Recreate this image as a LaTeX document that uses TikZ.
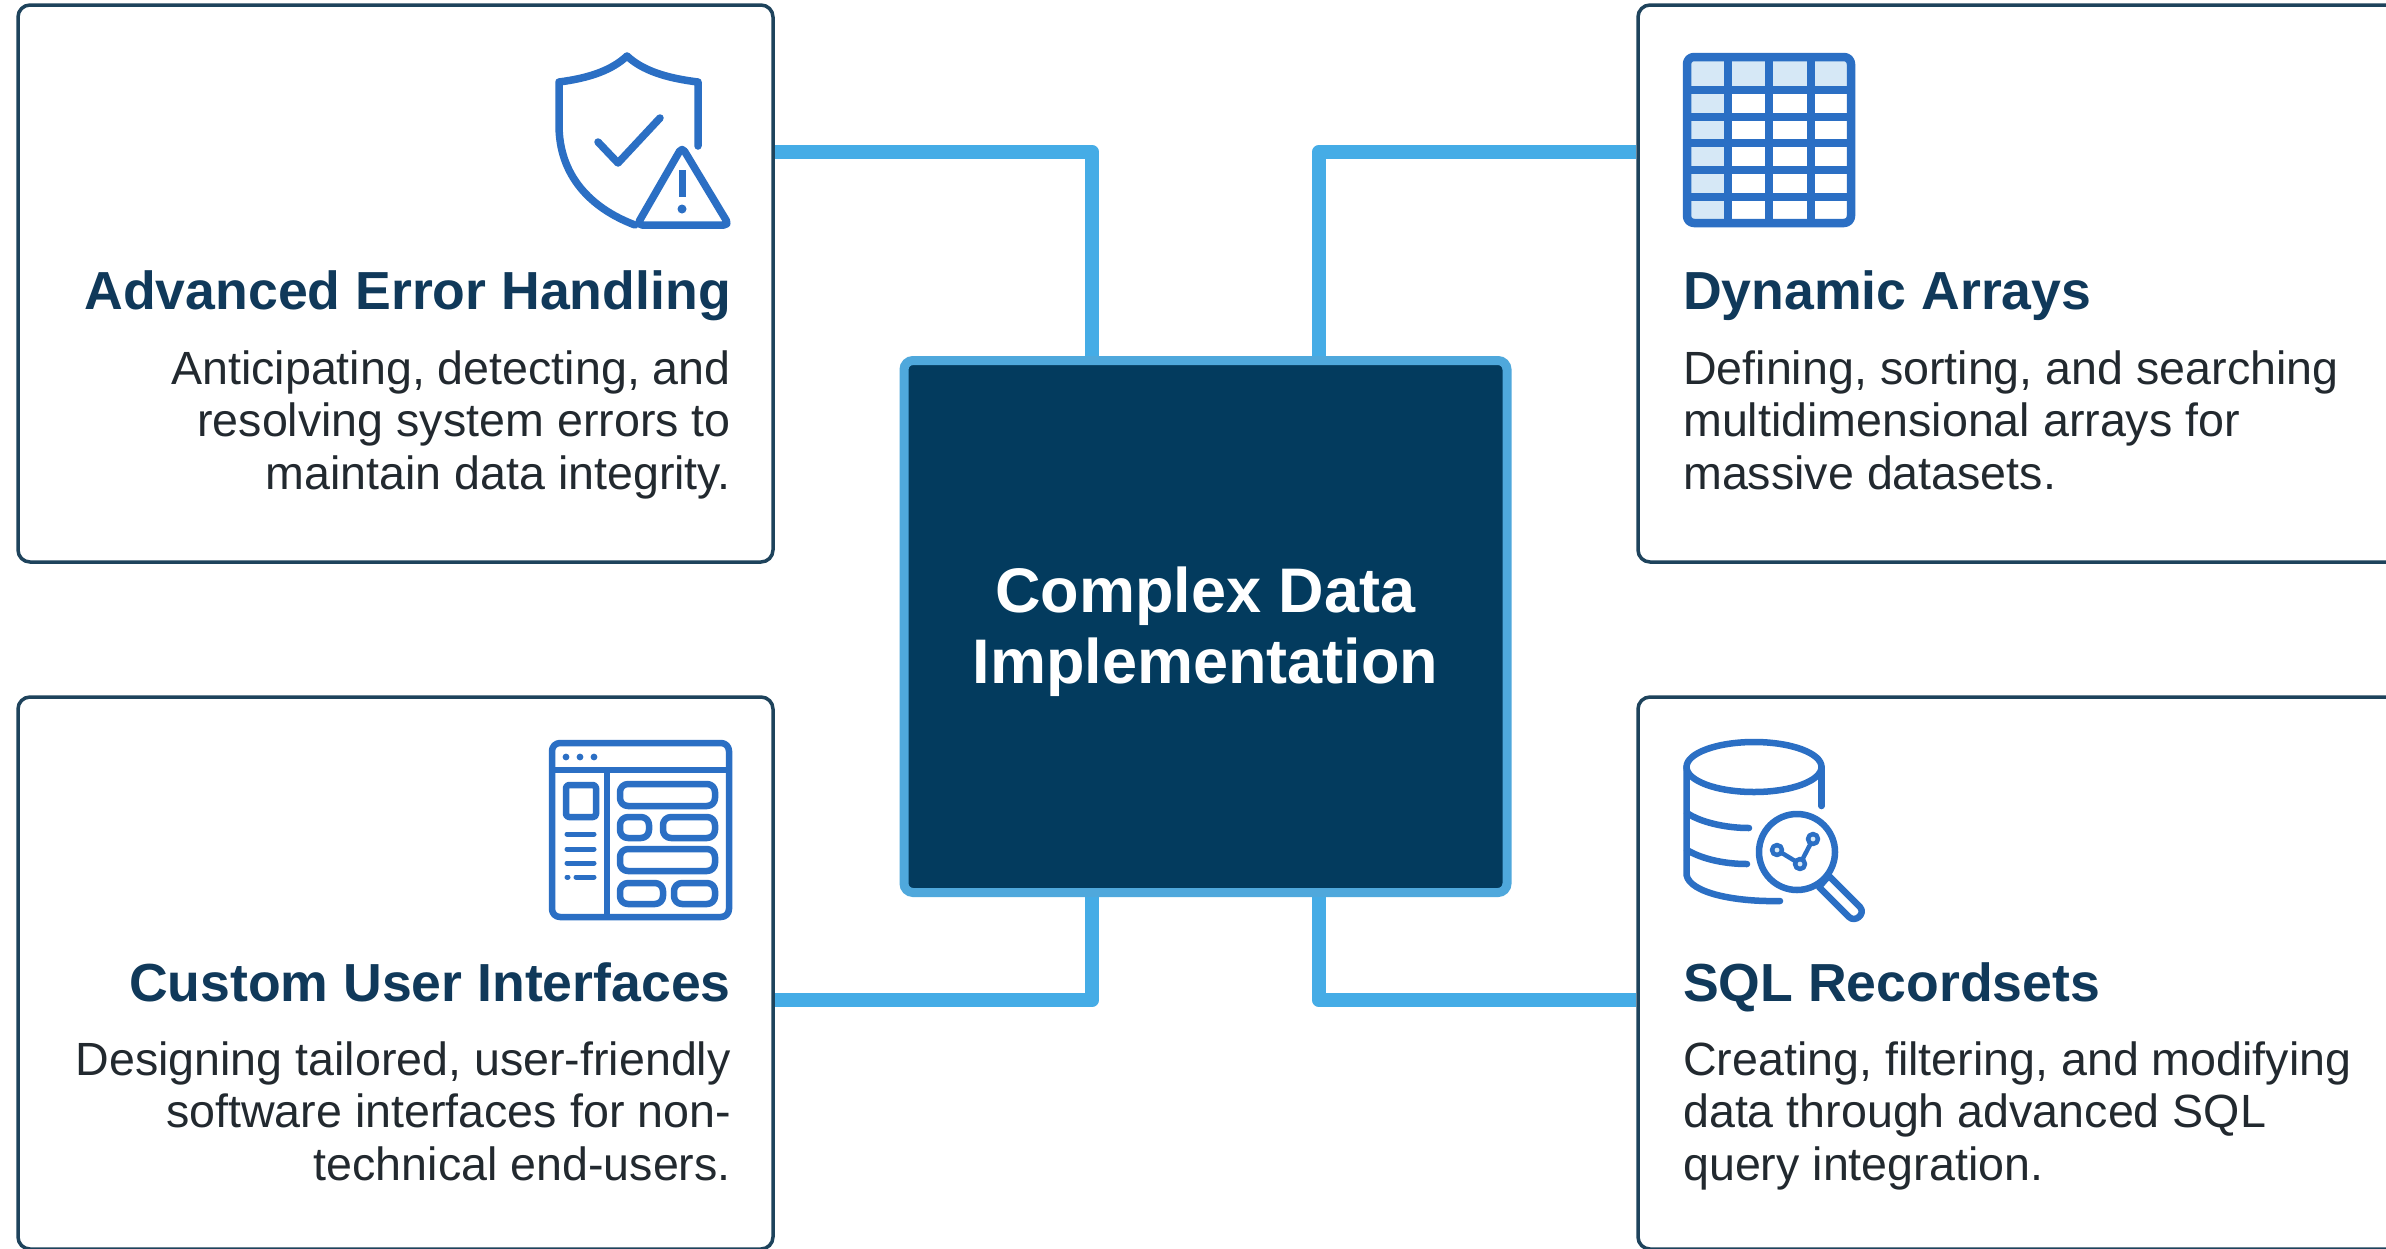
\documentclass[tikz,border=0pt]{standalone}
\usepackage{fontspec}
\setmainfont{Liberation Sans}
\definecolor{navy}{HTML}{033B5E}
\definecolor{edge}{HTML}{1E435C}
\definecolor{link}{HTML}{45ACE6}
\definecolor{rim}{HTML}{4FA8DC}
\definecolor{ink}{HTML}{10395A}
\definecolor{body}{HTML}{22292F}
\definecolor{ico}{HTML}{2B6FC4}
\definecolor{tint}{HTML}{D6E8F6}
\tikzset{
  card/.style={draw=edge,line width=3.5pt,rounded corners=12pt,fill=white,inner sep=0pt,minimum width=755pt,minimum height=557pt},
  cardb/.style={card,minimum height=552pt},
  cardr/.style={card,minimum width=800pt},
  cardrb/.style={cardb,minimum width=800pt},
  hub/.style={draw=rim,line width=9pt,rounded corners=9pt,fill=navy,inner sep=0pt,minimum width=603pt,minimum height=532pt},
  hubtext/.style={text=white,inner sep=0pt,align=center,font=\bfseries\fontsize{63}{71}\selectfont},
  conn/.style={draw=link,line width=14.5pt,line join=round},
  headl/.style={anchor=base east,text=ink,inner sep=0pt,font=\bfseries\fontsize{53.6}{60}\selectfont},
  headr/.style={anchor=base west,text=ink,inner sep=0pt,font=\bfseries\fontsize{53.6}{60}\selectfont},
  bodyl/.style={anchor=north east,align=right,text=body,inner sep=0pt,font=\fontsize{46.6}{52.5}\selectfont},
  bodyr/.style={anchor=north west,align=left,text=body,inner sep=0pt,font=\fontsize{46.6}{52.5}\selectfont},
  icon/.style={draw=ico,line width=7.5pt,line cap=round,line join=round},
  thin/.style={icon,line width=6.5pt},
}
\begin{document}
\begin{tikzpicture}[x=1pt,y=-1pt]
\useasboundingbox (0,0) rectangle (2386,1248);
\clip (0,0) rectangle (2386,1248);
\fill[white] (0,0) rectangle (2386,1248);
% cards
\node[card]   (tl) at (395.5,283.5) {};
\node[cardb]  (bl) at (395.5,973) {};
\node[cardr]  (tr) at (2038,283.5) {};
\node[cardrb] (br) at (2038,973) {};
% connectors
\coordinate (j1) at (1092,152);
\coordinate (j2) at (1319,152);
\coordinate (j3) at (1092,1000);
\coordinate (j4) at (1319,1000);
\node[hub] (hub) at (1205.5,626.5) {};
\node[hubtext] (hubt) at (1205.5,632) {Complex Data\\Implementation};
\draw[conn] (tl.east |- j1) -- (j1) -- (j1 |- hub.north);
\draw[conn] (tr.west |- j2) -- (j2) -- (j2 |- hub.north);
\draw[conn] (bl.east |- j3) -- (j3) -- (j3 |- hub.south);
\draw[conn] (br.west |- j4) -- (j4) -- (j4 |- hub.south);
% texts
\node[headl] (t1) at (731,309) {Advanced Error Handling};
\node[bodyl] (d1) at (731,350.5) {Anticipating, detecting, and\\resolving system errors to\\maintain data integrity.};
\node[headr] (t2) at (1683,309) {Dynamic Arrays};
\node[bodyr] (d2) at (1683,350.5) {Defining, sorting, and searching\\multidimensional arrays for\\massive datasets.};
\node[headl] (t3) at (731,1001) {Custom User Interfaces};
\node[bodyl] (d3) at (731,1041.5) {Designing tailored, user-friendly\\software interfaces for non-\\technical end-users.};
\node[headr] (t4) at (1683,1001) {SQL Recordsets};
\node[bodyr] (d4) at (1683,1041.5) {Creating, filtering, and modifying\\data through advanced SQL\\query integration.};
% shield icon
\draw[icon] (635,225) .. controls (590,208) and (559,175) .. (559,125) -- (559,82)
  .. controls (590,78) and (612,70) .. (627,56)
  .. controls (642,70) and (665,78) .. (698,82) -- (698,146);
\draw[icon] (598,142) -- (618,163) -- (660,118);
\draw[icon,rounded corners=5pt] (682,147) -- (729,225) -- (637,225) -- cycle;
\draw[icon,line width=7pt,line cap=butt] (682,170) -- (682,197);
\fill[ico] (682,209) circle (4.5pt);
% table icon
\fill[tint] (1687,57) rectangle (1851,90);
\fill[tint] (1687,90) rectangle (1728,223);
\draw[icon,line width=8.5pt,rounded corners=7pt] (1687,57) rectangle (1851,223);
\foreach \x in {1728,1769,1811}\draw[icon,line width=7.5pt,line cap=butt] (\x,57) -- (\x,223);
\foreach \y in {90,117,143,170,197}\draw[icon,line width=7.5pt,line cap=butt] (1687,\y) -- (1851,\y);
% window icon
\draw[thin,rounded corners=8pt] (552,743) rectangle (729,917);
\draw[thin,line cap=butt] (552,770) -- (729,770);
\draw[thin,line cap=butt] (607,770) -- (607,917);
\foreach \x in {566,580,594}\fill[ico] (\x,757) circle (3.4pt);
\draw[thin,rounded corners=3pt] (566,785) rectangle (596,817);
\foreach \y in {834,849,863}\draw[thin,line width=5pt] (567,\y) -- (594,\y);
\draw[thin,line width=5pt] (567,877) -- (568,877);
\draw[thin,line width=5pt] (576,877) -- (594,877);
\foreach \a/\b/\c/\d in {620/784/715/806,620/817/649/838,663/817/715/838,620/849/715/871,620/883/663/904,674/883/715/904}
  \draw[thin,rounded corners=8pt] (\a,\b) rectangle (\c,\d);
% database icon
\draw[thin] (1754,767) ellipse (67.5pt and 25pt);
\draw[thin] (1821.5,767) -- (1821.5,806);
\draw[thin] (1686.5,767) -- (1686.5,875) .. controls (1690,893) and (1735,902) .. (1780,901);
\draw[thin] (1687,813) .. controls (1700,822) and (1725,828) .. (1749,828);
\draw[thin] (1687,850) .. controls (1700,858) and (1722,864) .. (1747,864);
\draw[thin] (1797,852) circle (38pt);
\draw[thin] (1825,880) -- (1829,876) -- (1860,907) .. controls (1866,914) and (1855,923) .. (1849,917) -- (1819,887) -- cycle;
\draw[thin,line width=4.5pt] (1777,850) -- (1800,864) -- (1813,839);
\foreach \x/\y in {1777/850,1800/864,1813/839}\draw[thin,line width=4.5pt,fill=tint] (\x,\y) circle (5pt);
\end{tikzpicture}
\end{document}
